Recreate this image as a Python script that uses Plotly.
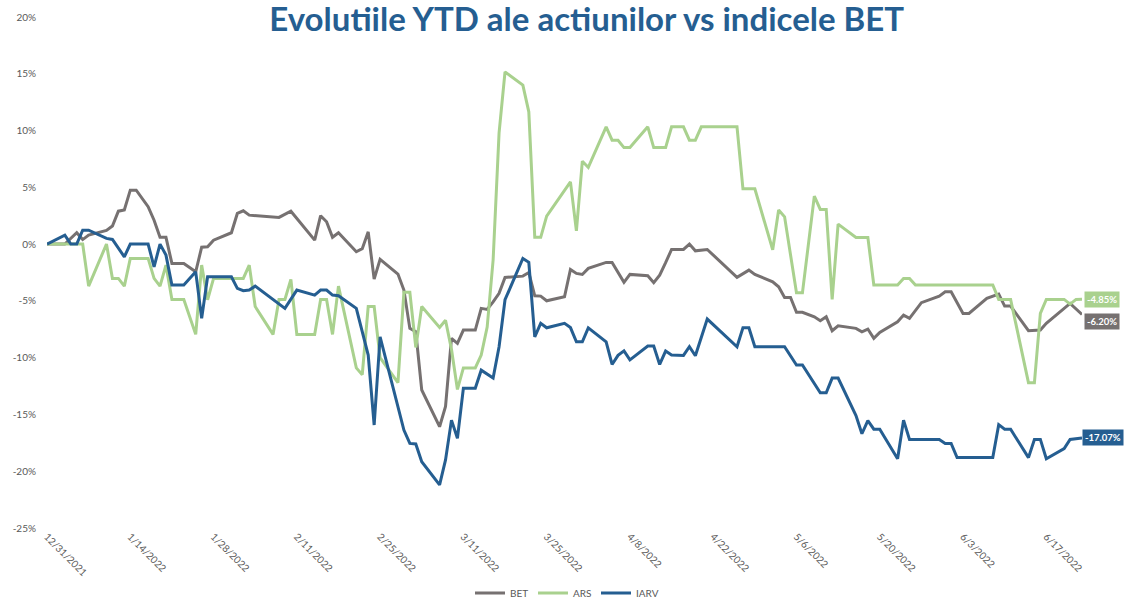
import plotly.graph_objects as go

# ---- data (YTD % change) ----
bet_dates = ["2021-12-31","2022-01-03","2022-01-05","2022-01-06","2022-01-07","2022-01-10","2022-01-11","2022-01-12","2022-01-13","2022-01-14","2022-01-15","2022-01-16","2022-01-17","2022-01-18","2022-01-19","2022-01-20","2022-01-21","2022-01-23","2022-01-25","2022-01-26","2022-01-27","2022-01-28","2022-01-31","2022-02-01","2022-02-02","2022-02-03","2022-02-08","2022-02-10","2022-02-14","2022-02-15","2022-02-16","2022-02-17","2022-02-18","2022-02-21","2022-02-22","2022-02-23","2022-02-24","2022-02-25","2022-02-28","2022-03-01","2022-03-02","2022-03-03","2022-03-04","2022-03-07","2022-03-08","2022-03-09","2022-03-10","2022-03-11","2022-03-13","2022-03-14","2022-03-15","2022-03-16","2022-03-17","2022-03-18","2022-03-21","2022-03-22","2022-03-23","2022-03-24","2022-03-25","2022-03-28","2022-03-29","2022-03-30","2022-03-31","2022-04-01","2022-04-04","2022-04-05","2022-04-06","2022-04-07","2022-04-08","2022-04-11","2022-04-12","2022-04-13","2022-04-14","2022-04-15","2022-04-17","2022-04-18","2022-04-19","2022-04-21","2022-04-26","2022-04-28","2022-04-29","2022-05-02","2022-05-03","2022-05-04","2022-05-05","2022-05-06","2022-05-07","2022-05-09","2022-05-10","2022-05-11","2022-05-12","2022-05-13","2022-05-16","2022-05-17","2022-05-18","2022-05-19","2022-05-20","2022-05-23","2022-05-24","2022-05-25","2022-05-27","2022-05-29","2022-05-30","2022-05-31","2022-06-01","2022-06-03","2022-06-04","2022-06-07","2022-06-09","2022-06-10","2022-06-11","2022-06-14","2022-06-16","2022-06-17","2022-06-21","2022-06-23"]
bet_values = [0,0,1.0,0.4,0.8,1.2,1.6,2.9,3.0,4.75,4.75,4.0,3.3,2.1,0.6,0.6,-1.7,-1.7,-2.44,-0.27,-0.24,0.35,1.0,2.7,2.93,2.55,2.35,2.9,0.35,2.5,1.97,0.6,1.0,-0.67,-0.4,1.08,-3.08,-1.35,-2.64,-4.05,-7.42,-7.72,-12.85,-16.08,-14.3,-8.3,-8.74,-7.57,-7.57,-5.66,-5.75,-5.08,-4.34,-2.93,-2.82,-2.5,-4.55,-4.58,-4.99,-4.64,-2.23,-2.58,-2.67,-2.14,-1.61,-1.61,-2.52,-3.37,-2.67,-2.79,-3.4,-2.73,-1.64,-0.47,-0.47,0.0,-0.59,-0.47,-2.93,-2.29,-2.67,-3.32,-3.76,-4.7,-4.7,-6.0,-6.0,-6.4,-6.75,-6.4,-7.63,-7.19,-7.42,-7.72,-7.48,-8.3,-7.77,-6.84,-6.25,-6.54,-5.16,-4.78,-4.58,-4.2,-4.2,-6.1,-6.1,-4.78,-4.4,-5.46,-5.46,-7.63,-7.57,-6.98,-5.22,-6.2]

ars_dates = ["2021-12-31","2022-01-06","2022-01-07","2022-01-10","2022-01-11","2022-01-12","2022-01-13","2022-01-14","2022-01-17","2022-01-18","2022-01-19","2022-01-20","2022-01-21","2022-01-23","2022-01-25","2022-01-26","2022-01-27","2022-01-28","2022-02-02","2022-02-03","2022-02-04","2022-02-07","2022-02-08","2022-02-09","2022-02-10","2022-02-11","2022-02-14","2022-02-15","2022-02-16","2022-02-17","2022-02-18","2022-02-21","2022-02-22","2022-02-23","2022-02-24","2022-02-25","2022-02-28","2022-03-01","2022-03-02","2022-03-03","2022-03-04","2022-03-07","2022-03-08","2022-03-09","2022-03-10","2022-03-11","2022-03-13","2022-03-14","2022-03-15","2022-03-16","2022-03-17","2022-03-18","2022-03-21","2022-03-22","2022-03-23","2022-03-24","2022-03-25","2022-03-28","2022-03-29","2022-03-30","2022-03-31","2022-04-01","2022-04-04","2022-04-05","2022-04-06","2022-04-07","2022-04-08","2022-04-11","2022-04-12","2022-04-14","2022-04-15","2022-04-17","2022-04-18","2022-04-19","2022-04-20","2022-04-26","2022-04-27","2022-04-29","2022-05-02","2022-05-03","2022-05-04","2022-05-06","2022-05-07","2022-05-09","2022-05-10","2022-05-11","2022-05-12","2022-05-13","2022-05-16","2022-05-18","2022-05-19","2022-05-23","2022-05-24","2022-05-25","2022-05-26","2022-06-08","2022-06-09","2022-06-11","2022-06-14","2022-06-15","2022-06-16","2022-06-17","2022-06-20","2022-06-21","2022-06-22","2022-06-23"]
ars_values = [0,0,-3.7,0,-3.02,-3.02,-3.7,-1.26,-1.26,-3.02,-3.7,-1.85,-4.87,-4.87,-7.95,-1.85,-4.9,-3.02,-3.02,-1.85,-5.5,-7.95,-4.87,-4.87,-3.1,-7.95,-7.95,-4.87,-4.87,-7.95,-3.7,-10.9,-11.5,-5.5,-5.5,-10.0,-12.2,-4.25,-4.25,-9.1,-5.5,-7.34,-6.7,-9.27,-12.8,-10.9,-10.9,-9.77,-7.3,-1.4,9.8,15.17,14.0,11.65,0.6,0.6,2.46,4.75,5.48,1.17,7.3,6.75,10.33,9.15,9.15,8.5,8.5,10.33,8.5,8.5,10.33,10.33,9.15,9.15,10.33,10.33,4.87,4.87,-0.5,3.0,2.4,-4.29,-4.29,4.22,3.05,3.05,-4.87,1.76,0.59,0.59,-3.6,-3.6,-3.02,-3.02,-3.6,-3.6,-4.87,-4.87,-12.2,-12.2,-6.1,-4.87,-4.87,-5.28,-4.87,-4.85]

iarv_dates = ["2021-12-31","2022-01-03","2022-01-04","2022-01-05","2022-01-06","2022-01-07","2022-01-10","2022-01-11","2022-01-13","2022-01-14","2022-01-17","2022-01-18","2022-01-19","2022-01-20","2022-01-21","2022-01-23","2022-01-25","2022-01-26","2022-01-27","2022-01-31","2022-02-01","2022-02-02","2022-02-03","2022-02-04","2022-02-09","2022-02-11","2022-02-14","2022-02-15","2022-02-16","2022-02-17","2022-02-18","2022-02-21","2022-02-23","2022-02-24","2022-02-25","2022-03-01","2022-03-02","2022-03-03","2022-03-04","2022-03-07","2022-03-08","2022-03-09","2022-03-10","2022-03-11","2022-03-13","2022-03-14","2022-03-16","2022-03-17","2022-03-18","2022-03-21","2022-03-22","2022-03-23","2022-03-24","2022-03-25","2022-03-28","2022-03-29","2022-03-30","2022-03-31","2022-04-01","2022-04-04","2022-04-05","2022-04-06","2022-04-07","2022-04-08","2022-04-11","2022-04-12","2022-04-13","2022-04-14","2022-04-15","2022-04-17","2022-04-18","2022-04-19","2022-04-21","2022-04-26","2022-04-27","2022-04-28","2022-04-29","2022-05-04","2022-05-06","2022-05-07","2022-05-10","2022-05-11","2022-05-12","2022-05-13","2022-05-16","2022-05-17","2022-05-18","2022-05-19","2022-05-20","2022-05-23","2022-05-24","2022-05-25","2022-05-30","2022-05-31","2022-06-01","2022-06-02","2022-06-08","2022-06-09","2022-06-10","2022-06-11","2022-06-14","2022-06-15","2022-06-16","2022-06-17","2022-06-20","2022-06-21","2022-06-23"]
iarv_values = [0,0.79,0,0,1.23,1.23,0.5,0.41,-1.12,0,0,-2.0,0,-0.97,-3.6,-3.6,-2.44,-6.54,-2.88,-2.88,-3.9,-4.1,-4.05,-3.7,-5.66,-4.05,-4.49,-4.05,-4.05,-4.49,-4.55,-5.66,-9.77,-15.93,-8.16,-16.37,-17.55,-17.6,-19.16,-21.2,-19.0,-15.5,-17.1,-12.7,-12.7,-11.1,-11.8,-9.04,-4.9,-1.26,-1.6,-8.16,-6.98,-7.37,-6.98,-7.35,-8.6,-8.6,-7.37,-8.6,-10.6,-9.8,-9.4,-10.2,-8.98,-8.98,-10.6,-9.42,-9.77,-9.8,-9.04,-9.83,-6.6,-9.04,-7.37,-7.37,-9.04,-9.04,-10.65,-10.65,-13.1,-13.1,-11.8,-11.8,-15.1,-16.7,-15.55,-16.3,-16.3,-18.9,-15.5,-17.2,-17.2,-17.55,-17.55,-18.8,-18.8,-15.9,-16.3,-16.3,-18.8,-17.2,-17.2,-18.9,-18.0,-17.2,-17.07]

series_names = ["BET", "ARS", "IARV"]
series_colors = ["#767171", "#a9d18e", "#255e91"]
end_labels = ["-6.20%", "-4.85%", "-17.07%"]
y_ticks = [20, 15, 10, 5, 0, -5, -10, -15, -20, -25]
y_tick_text = ["20%", "15%", "10%", "5%", "0%", "-5%", "-10%", "-15%", "-20%", "-25%"]
title_text = "Evolutiile YTD ale actiunilor vs indicele BET"

all_dates = [bet_dates, ars_dates, iarv_dates]
all_values = [bet_values, ars_values, iarv_values]

fig = go.Figure()
for name, color, xs, ys in zip(series_names, series_colors, all_dates, all_values):
    fig.add_trace(go.Scatter(x=xs, y=ys, mode="lines", name=name,
                             line=dict(color=color, width=3)))

label_yshift = [-7, 0, 0]
label_xshift = [2, 2, 0]
for color, xs, ys, txt, ysh, xsh in zip(series_colors, all_dates, all_values, end_labels, label_yshift, label_xshift):
    fig.add_annotation(x=xs[-1], y=ys[-1], text="<b>" + txt + "</b>", showarrow=False,
                       xanchor="left", yanchor="middle", xshift=xsh, yshift=ysh,
                       bgcolor=color, borderpad=2,
                       font=dict(family="Lato", size=9.5, color="white"))

fig.update_layout(
    width=1124, height=601,
    margin=dict(l=47, r=42, t=17, b=73, autoexpand=False),
    paper_bgcolor="white", plot_bgcolor="white",
    title=dict(text="<b>" + title_text + "</b>", x=0.522, xref="container", xanchor="center",
               y=0.967, yref="container", yanchor="middle",
               font=dict(family="Lato", size=33, color="#255e91")),
    showlegend=True,
    legend=dict(orientation="h", x=0.5, xanchor="center", y=-0.127, yanchor="middle",
                font=dict(family="Lato", size=10, color="#595959"), itemwidth=30,
                entrywidth=18, entrywidthmode="pixels"),
    font=dict(family="Lato", color="#595959"),
)
fig.update_xaxes(type="date", range=["2021-12-31", "2022-06-23"],
                 tick0="2021-12-31", dtick=14 * 86400000, tickformat="%-m/%-d/%Y",
                 tickangle=45, showgrid=False, zeroline=False, showline=False,
                 ticks="", tickfont=dict(size=10, color="#595959"))
fig.update_yaxes(range=[-25, 20], tickvals=y_ticks, ticktext=y_tick_text,
                 showgrid=False, zeroline=False, showline=False, ticks="",
                 ticklabelstandoff=10, tickfont=dict(size=10, color="#595959"))

# remove the page's default body margin so the figure fills the window exactly
fig.write_html("out.html", config={"displayModeBar": False},
               post_script="document.body.style.margin='0';")
